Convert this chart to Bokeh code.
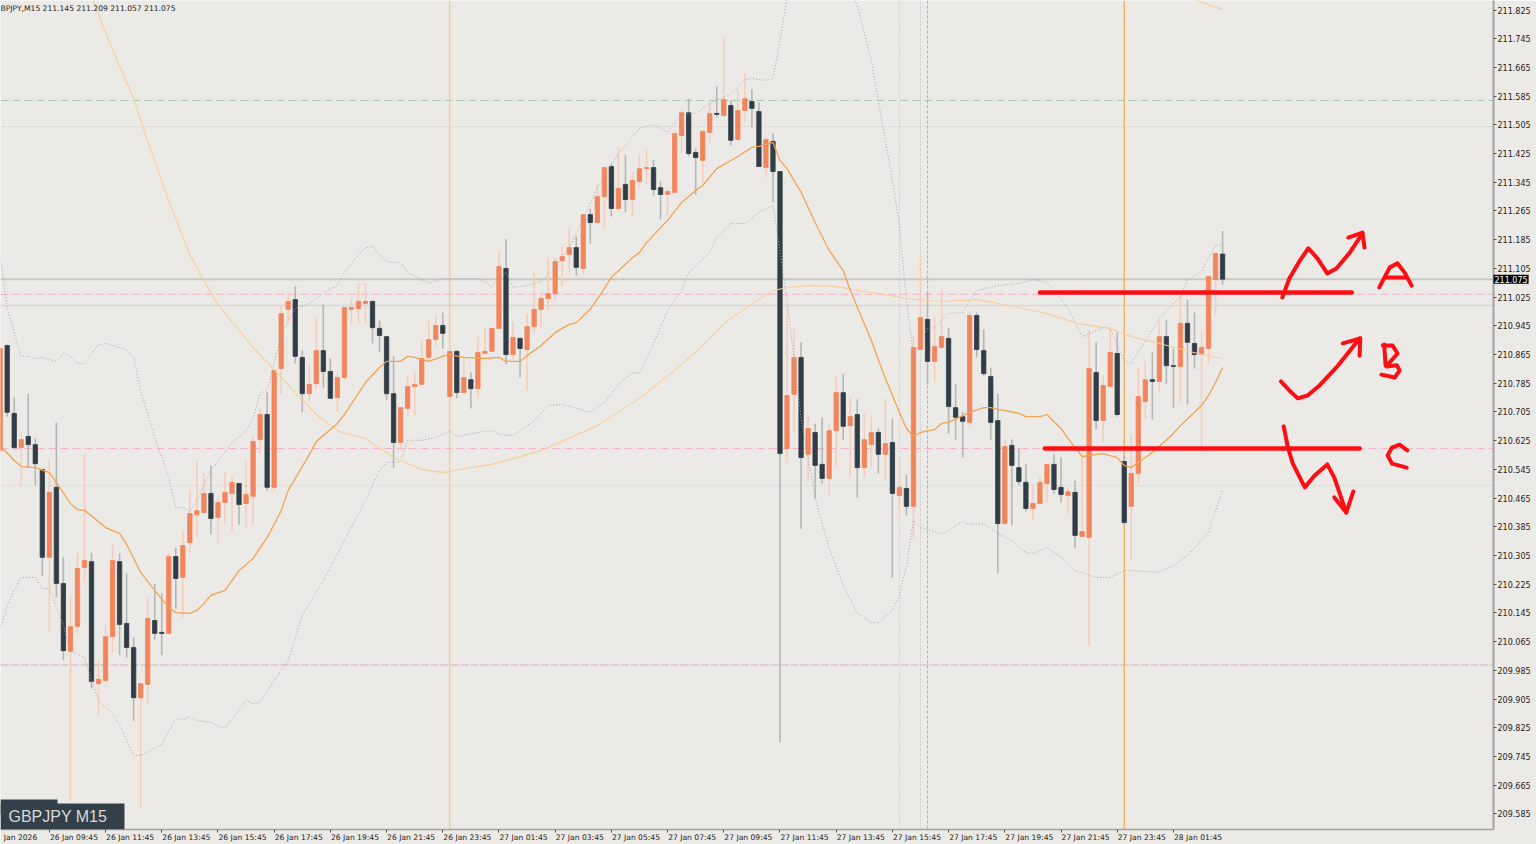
from bokeh.plotting import figure
from bokeh.embed import file_html
from bokeh.resources import INLINE
from bokeh.models import Range1d, FixedTicker, PrintfTickFormatter, Span, Label, BoxAnnotation

opens = [210.598,210.890,210.701,210.606,210.637,210.614,210.545,210.300,210.495,210.227,210.038,210.107,210.272,210.288,209.948,209.957,210.079,210.288,210.116,210.049,209.909,209.946,210.124,210.091,210.088,210.302,210.244,210.341,210.419,210.425,210.478,210.411,210.453,210.478,210.506,210.450,210.470,210.628,210.698,210.495,
210.826,210.991,211.018,210.857,210.756,210.784,210.876,210.818,210.745,210.801,210.991,210.993,211.007,211.013,210.938,210.915,210.756,210.620,210.715,210.776,210.782,210.857,210.907,210.946,210.748,210.874,210.759,210.795,210.770,210.868,210.874,210.938,211.105,210.865,210.910,210.879,210.943,210.991,211.021,211.035,
211.127,211.144,211.163,211.105,211.255,211.233,211.305,211.389,211.272,211.339,211.297,211.347,211.383,211.386,211.330,211.311,211.317,211.475,211.539,211.428,211.406,211.484,211.537,211.531,211.559,211.464,211.545,211.570,211.542,211.386,211.459,211.375,
210.603,210.754,210.857,210.587,210.648,210.559,210.520,210.653,210.759,210.667,210.698,210.550,210.614,210.648,210.587,210.620,210.472,210.492,210.442,210.879,210.963,210.846,210.885,210.910,210.717,210.692,210.676,210.974,210.876,210.804,210.681,210.394,210.612,210.550,210.509,210.436,210.450,210.506,210.559,210.495,210.472,210.481,210.358,210.355,210.815,210.681,210.776,210.868,210.567,210.442,210.534,210.734,210.795,210.790,210.915,210.834,210.832,210.952,210.896,210.865,210.882,211.074,211.145]
closes = [210.882,210.704,210.606,210.628,210.614,210.561,210.300,210.481,210.227,210.040,210.107,210.269,210.291,209.954,209.960,210.079,210.291,210.113,210.049,209.909,209.948,210.130,210.088,210.088,210.302,210.241,210.333,210.422,210.430,210.478,210.408,210.453,210.481,210.509,210.447,210.475,210.623,210.698,210.495,210.821,
210.979,211.013,210.860,210.756,210.782,210.876,210.818,210.743,210.801,210.996,210.996,211.013,211.013,210.940,210.918,210.756,210.620,210.717,210.776,210.782,210.854,210.907,210.946,210.924,210.874,210.759,210.801,210.770,210.871,210.874,210.938,211.110,210.865,210.913,210.882,210.943,210.991,211.021,211.035,211.124,
211.138,211.163,211.108,211.255,211.233,211.305,211.386,211.272,211.328,211.297,211.350,211.383,211.386,211.325,211.311,211.319,211.481,211.539,211.425,211.414,211.487,211.537,211.534,211.576,211.462,211.545,211.578,211.551,211.389,211.464,211.375,210.589,
210.751,210.857,210.578,210.659,210.556,210.520,210.653,210.759,210.665,210.692,210.550,210.628,210.648,210.587,210.617,210.478,210.495,210.442,210.885,210.968,210.846,210.887,210.915,210.720,210.690,210.679,210.974,210.879,210.812,210.676,210.394,210.609,210.556,210.511,210.436,210.450,210.509,210.559,210.489,210.475,210.483,210.361,210.372,210.826,210.681,210.779,210.871,210.698,210.397,210.534,210.748,210.795,210.790,210.915,210.834,210.832,210.952,210.899,210.865,210.885,211.083,211.147,211.075]
highs = [210.890,210.893,210.745,210.648,210.756,210.631,210.545,210.573,210.676,210.300,210.191,210.311,210.587,210.313,210.010,210.110,210.341,210.311,210.255,210.077,209.948,210.188,210.227,210.199,210.311,210.327,210.372,210.486,210.567,210.534,210.556,210.467,210.539,210.525,210.506,210.570,210.642,210.715,210.759,210.821,
211.004,211.038,211.055,210.876,210.837,210.968,211.004,210.854,210.818,210.996,211.021,211.063,211.066,211.016,210.960,210.918,210.860,210.717,210.809,210.818,210.904,210.960,210.974,210.982,210.874,210.876,210.857,210.815,210.915,210.940,210.938,211.152,211.186,210.957,210.913,210.979,211.094,211.038,211.135,211.135,
211.166,211.219,211.194,211.255,211.272,211.339,211.386,211.397,211.445,211.422,211.375,211.422,211.434,211.408,211.347,211.328,211.489,211.545,211.578,211.439,211.489,211.565,211.612,211.746,211.573,211.604,211.648,211.604,211.567,211.478,211.481,211.375,
210.993,210.940,210.899,210.698,210.673,210.690,210.673,210.807,210.812,210.745,210.740,210.701,210.692,210.659,210.740,210.687,210.570,210.531,210.918,211.135,211.038,210.971,211.049,210.940,210.782,210.706,210.985,210.982,210.935,210.829,210.756,210.626,210.628,210.606,210.559,210.503,210.525,210.559,210.587,210.578,210.495,210.514,210.584,210.932,210.899,210.807,210.938,210.927,210.584,210.642,210.829,210.846,210.871,210.960,210.960,210.882,211.030,211.018,210.982,210.929,211.083,211.147,211.209]
lows = [210.592,210.692,210.600,210.497,210.550,210.500,210.247,210.091,210.188,210.013,209.622,210.088,210.230,209.935,209.862,209.951,210.035,210.027,210.021,209.845,209.600,209.890,210.071,210.027,210.085,210.157,210.132,210.313,210.358,210.422,210.364,210.341,210.394,210.372,210.391,210.383,210.389,210.587,210.486,210.486,
210.754,210.952,210.840,210.704,210.734,210.770,210.773,210.743,210.704,210.793,210.949,210.954,210.954,210.896,210.871,210.737,210.550,210.598,210.690,210.695,210.779,210.848,210.890,210.882,210.745,210.743,210.756,210.715,210.745,210.868,210.874,210.935,210.837,210.851,210.801,210.765,210.924,210.940,210.988,211.016,
211.055,211.094,211.085,211.091,211.174,211.230,211.219,211.250,211.269,211.261,211.250,211.328,211.339,211.308,211.241,211.252,211.314,211.428,211.417,211.311,211.347,211.456,211.526,211.531,211.448,211.462,211.512,211.498,211.389,211.358,211.289,209.784,
210.564,210.645,210.380,210.511,210.464,210.506,210.475,210.550,210.626,210.522,210.467,210.522,210.553,210.534,210.517,210.244,210.417,210.417,210.353,210.879,210.782,210.790,210.882,210.645,210.626,210.578,210.665,210.857,210.804,210.628,210.255,210.394,210.389,210.500,210.428,210.403,210.450,210.453,210.478,210.453,210.422,210.325,210.358,210.054,210.656,210.620,210.773,210.692,210.391,210.291,210.506,210.687,210.684,210.762,210.784,210.715,210.734,210.726,210.826,210.598,210.840,210.974,211.060]

ma_idx = [0,2,3,5,7,8,10,11,12,15,17,18,20,22,24,25,27,28,29,30,32,34,36,37,38,40,41,44,45,48,49,52,54,55,57,58,59,61,63,64,66,69,71,72,74,75,77,79,81,82,84,86,87,90,91,92,95,97,99,100,102,105,107,108,110,111,112,114,116,118,120,121,124,126,128,129,130,131,133,134,135,138,140,141,142,143,145,146,148,149,151,152,154,157,159,160,161,162,164,167,168,171,172,173,174]
ma_val = [210.612,210.570,210.553,210.550,210.536,210.508,210.450,210.433,210.431,210.383,210.366,210.336,210.258,210.208,210.160,210.146,210.144,210.152,210.171,210.194,210.208,210.263,210.297,210.327,210.355,210.430,210.486,210.586,210.623,210.673,210.698,210.787,210.829,210.846,210.846,210.860,210.857,210.846,210.860,210.865,210.857,210.854,210.857,210.846,210.846,210.862,210.890,210.926,210.949,210.954,210.991,211.049,211.080,211.135,211.149,211.177,211.239,211.289,211.322,211.336,211.383,211.417,211.442,211.445,211.456,211.406,211.383,211.317,211.233,211.155,211.099,211.044,210.904,210.798,210.704,210.659,210.637,210.648,210.656,210.673,210.676,210.704,210.717,210.717,210.712,210.709,210.701,210.692,210.692,210.698,210.659,210.631,210.581,210.589,210.578,210.556,210.550,210.564,210.592,210.645,210.667,210.723,210.751,210.787,210.829]

slow_idx = [13,15,19,21,24,27,29,31,36,39,42,45,48,49,52,56,60,63,66,70,73,77,85,91,96,100,103,107,110,112,115,119,122,126,129,134,139,143,149,154,158,161,165,171,174]
slow_val = [211.865,211.760,211.578,211.459,211.294,211.144,211.071,211.004,210.885,210.823,210.759,210.698,210.653,210.645,210.631,210.578,210.545,210.536,210.547,210.559,210.575,210.598,210.667,210.743,210.821,210.890,210.951,211.007,211.043,211.052,211.057,211.055,211.044,211.032,211.021,211.013,211.018,211.004,210.979,210.949,210.938,210.915,210.896,210.865,210.854]
slow2_idx = [170,174]
slow2_val = [211.854,211.826]

upper_idx = [0,1,2,3,4,5,6,8,9,10,11,12,14,15,18,19,20,22,24,25,26,27,28,30,33,35,36,37,38,39,40,41,42,44,46,48,49,51,52,53,55,57,58,59,61,63,68,70,72,73,75,77,79,81,83,85,88,91,93,95,97,99,101,104,106,107,109,110,111,112,114,118,121,122,124,125,126,127,128,129,130,132,133,135,137,138,139,142,145,147,149,151,152,154,157,158,160,161,165,168,169,171,173,174]
upper_val = [211.141,210.996,210.924,210.860,210.860,210.854,210.857,210.846,210.868,210.860,210.840,210.840,210.893,210.896,210.879,210.857,210.765,210.634,210.522,210.439,210.439,210.428,210.458,210.542,210.620,210.653,210.687,210.757,210.765,210.840,210.918,210.960,210.993,211.007,211.038,211.057,211.094,211.144,211.163,211.166,211.124,211.121,211.094,211.085,211.063,211.077,211.077,211.055,211.094,211.052,211.057,211.069,211.105,211.163,211.244,211.331,211.425,211.495,211.506,211.484,211.537,211.537,211.565,211.590,211.631,211.634,211.629,211.634,211.740,211.857,212.019,212.019,211.879,211.838,211.684,211.573,211.461,211.350,211.225,211.016,210.862,210.938,210.940,210.979,210.982,211.016,211.043,211.057,211.063,211.074,211.066,211.021,210.993,210.915,210.940,210.938,210.848,210.840,210.965,211.027,211.071,211.099,211.169,211.172]

lower_idx = [0,1,2,3,5,6,7,9,10,12,13,14,16,17,19,20,23,25,26,27,28,30,32,35,36,37,39,41,43,46,49,52,54,55,57,58,60,62,64,65,68,70,71,73,76,78,80,84,86,88,90,91,93,95,97,98,101,102,104,106,108,110,111,112,114,116,118,120,122,124,125,127,128,129,130,131,134,135,137,138,140,142,144,146,147,149,151,153,156,158,160,161,165,167,169,172,173,174]
lower_val = [210.102,210.166,210.208,210.244,210.244,210.213,210.213,210.110,210.040,210.021,209.957,209.901,209.865,209.834,209.748,209.748,209.779,209.851,209.848,209.856,209.845,209.840,209.823,209.901,209.893,209.896,209.957,210.013,210.138,210.235,210.347,210.458,210.542,210.564,210.567,210.626,210.626,210.634,210.651,210.637,210.648,210.653,210.642,210.639,210.681,210.723,210.726,210.704,210.731,210.782,210.815,210.812,210.896,210.988,211.043,211.094,211.149,211.191,211.230,211.230,211.261,211.280,211.155,211.016,210.690,210.467,210.325,210.222,210.146,210.118,210.118,210.152,210.194,210.277,210.403,210.383,210.366,210.375,210.400,210.392,210.394,210.366,210.347,210.313,210.311,210.327,210.300,210.263,210.244,210.244,210.263,210.263,210.258,210.277,210.305,210.369,210.430,210.486]

price_ticks = [211.825,211.745,211.665,211.585,211.505,211.425,211.345,211.265,211.185,211.105,211.025,210.945,210.865,210.785,210.705,210.625,210.545,210.465,210.385,210.305,210.225,210.145,210.065,209.985,209.905,209.825,209.745,209.665,209.585]
time_ticks = [7,15,23,31,39,47,55,63,71,79,87,95,103,111,119,127,135,143,151,159,167]
time_labels = ["26 Jan 09:45","26 Jan 11:45","26 Jan 13:45","26 Jan 15:45","26 Jan 17:45","26 Jan 19:45","26 Jan 21:45","26 Jan 23:45","27 Jan 01:45","27 Jan 03:45","27 Jan 05:45","27 Jan 07:45","27 Jan 09:45","27 Jan 11:45","27 Jan 13:45","27 Jan 15:45","27 Jan 17:45","27 Jan 19:45","27 Jan 21:45","27 Jan 23:45","28 Jan 01:45"]
first_label = "Jan 2026"
first_label_pos = 2.9
last_price = 211.075

level_a = 211.038
level_c = 210.603
strokes_x = [[148.0,192.4],[148.7,193.5],
 [182.5,183.5,185.0,186.2,187.5,188.9,190.2,192.1,193.9],[191.9,193.9,194.2],
 [182.3,183.5,184.7,186.1,187.8,190.2,193.5],[191.1,193.6,193.5],
 [182.7,183.3,184.0,185.7,187.1,188.9,189.9,191.6],[189.9,191.6,192.6],
 [196.3,197.8,198.9,199.9,200.9],[197.3,199.9],
 [197.0,197.2],[196.8,198.2,198.9,197.3,198.8,199.2,198.5,196.6],
 [200.3,199.2,198.1,197.5,198.1,200.2]]
strokes_y = [[level_a,level_a],[level_c,level_c],
 [211.024,211.077,211.127,211.161,211.133,211.091,211.105,211.149,211.202],[211.191,211.205,211.163],
 [210.790,210.765,210.743,210.751,210.779,210.829,210.910],[210.896,210.910,210.862],
 [210.665,210.606,210.561,210.495,210.528,210.559,210.522,210.425],[210.467,210.425,210.483],
 [211.052,211.108,211.119,211.094,211.057],[211.080,211.080],
 [210.893,210.835],[210.890,210.890,210.868,210.832,210.835,210.821,210.801,210.809],
 [210.598,210.614,210.606,210.584,210.561,210.550]]

BG = "#ECEAE6"
BULL = "#F2855C"
BEAR = "#303C46"
BULL_WICK = "#F6CDBC"
BEAR_WICK = "#B4B6B5"

p = figure(width=1568, height=844, output_backend="svg", toolbar_location=None,
           x_range=Range1d(0.047, 212.56), y_range=Range1d(209.5417, 211.8515),
           y_axis_location="right", min_border_left=0, min_border_top=0,
           min_border_right=42, min_border_bottom=15,
           background_fill_color=BG, border_fill_color=BG, outline_line_color=None,
           margin=(0, 0, 0, 0))
p.grid.visible = False

ax = p.xaxis[0]
label_pos = [t + 3.5 for t in time_ticks]
ax.ticker = FixedTicker(ticks=[first_label_pos] + label_pos, minor_ticks=time_ticks)
overrides = {t: s for t, s in zip(label_pos, time_labels)}
overrides[first_label_pos] = first_label
ax.major_label_overrides = overrides
ax.major_tick_out = 0
ax.major_tick_in = 0
ax.minor_tick_out = 3
ax.minor_tick_in = 0
ax.minor_tick_line_color = "#555555"
ax.axis_line_color = "#A2A2A2"
ax.axis_line_width = 1.5
ax.major_label_standoff = 0
ax.major_label_text_font = "DejaVu Sans"
ax.major_label_text_font_size = "7.6px"
ax.major_label_text_color = "#222222"

ay = p.yaxis[0]
ay.ticker = FixedTicker(ticks=price_ticks)
ay.formatter = PrintfTickFormatter(format="%.3f")
ay.major_tick_out = 3
ay.major_tick_in = 0
ay.minor_tick_out = 0
ay.major_tick_line_color = "#555555"
ay.axis_line_color = "#A2A2A2"
ay.axis_line_width = 2
ay.major_label_standoff = 1
ay.major_label_text_font = "DejaVu Sans"
ay.major_label_text_font_size = "8px"
ay.major_label_text_color = "#222222"

for loc, col, w, dash in [(last_price, "#C9C8C4", 2, "solid"), (211.002, "#D8D7D3", 1.5, "solid"),
                          (211.500, "#DEDDD9", 1, "solid"), (210.500, "#E2E1DD", 1.5, "solid"),
                          (211.573, "#A3C9AC", 1, "8 4"), (211.033, "#F4AECB", 1, "8 4"),
                          (210.603, "#F4AECB", 1, "8 4"), (210.000, "#E9C8D6", 2, "8 2")]:
    p.add_layout(Span(location=loc, dimension="width", line_color=col, line_width=w, line_dash=dash, level="underlay"))
for loc, col, w, dash in [(64, "#F0BC84", 1, "solid"), (160, "#F3AE52", 1.3, "solid"),
                          (128, "#BDBDBD", 1, "1 2"), (131, "#BDBDBD", 1, "1 2"),
                          (132, "#E39A8E", 1, "3 2")]:
    p.add_layout(Span(location=loc, dimension="height", line_color=col, line_width=w, line_dash=dash, level="underlay"))

up = [i for i in range(len(opens)) if closes[i] >= opens[i]]
dn = [i for i in range(len(opens)) if closes[i] < opens[i]]
for group, wick, body in [(up, BULL_WICK, BULL), (dn, BEAR_WICK, BEAR)]:
    p.segment(x0=group, x1=group, y0=[lows[i] for i in group], y1=[highs[i] for i in group],
              line_color=wick, line_width=1.6)
for group, body in [(up, BULL), (dn, BEAR)]:
    p.vbar(x=group, width=0.62, bottom=[min(opens[i], closes[i]) for i in group],
           top=[max(opens[i], closes[i]) for i in group], fill_color=body, line_color=body, line_width=0.8)

p.line(upper_idx, upper_val, line_color="#A9A4B5", line_width=1, line_dash="1 2")
p.line(lower_idx, lower_val, line_color="#A9A4B5", line_width=1, line_dash="1 2")
p.line(slow_idx, slow_val, line_color="#F6CF9E", line_width=1.1)
p.line(slow2_idx, slow2_val, line_color="#F6CF9E", line_width=1.1)
p.line(ma_idx, ma_val, line_color="#F2A350", line_width=1.3)

for i, (sx, sy) in enumerate(zip(strokes_x, strokes_y)):
    p.line(sx, sy, line_color="#FB0F14", line_width=4.5 if i < 2 else 4, line_join="round", line_cap="round")

p.add_layout(Label(x=-40, y=last_price, x_units="screen", y_units="data", text="211.075",
                   text_color="#FFFFFF", text_font="DejaVu Sans", text_font_size="8px", text_baseline="middle",
                   background_fill_color="#000000", background_fill_alpha=1, padding=1), "right")
p.add_layout(Label(x=0, y=821, x_units="screen", y_units="screen",
                   text="BPJPY,M15  211.145 211.209 211.057 211.075",
                   text_color="#222222", text_font="DejaVu Sans", text_font_size="7.6px", text_baseline="middle"))
p.add_layout(BoxAnnotation(left=0, right=57, top=30, bottom=15, left_units="screen", right_units="screen",
                           top_units="screen", bottom_units="screen", fill_color="#33404A", fill_alpha=1, line_color=None))
p.add_layout(BoxAnnotation(left=0, right=124, top=26, bottom=0, left_units="screen", right_units="screen",
                           top_units="screen", bottom_units="screen", fill_color="#33404A", fill_alpha=1, line_color=None))
p.add_layout(Label(x=8, y=13, x_units="screen", y_units="screen", text="GBPJPY M15",
                   text_color="#D9D9D9", text_font="Liberation Sans", text_font_size="16px", text_baseline="middle"))

open("out.html", "w").write(file_html(p, INLINE))
